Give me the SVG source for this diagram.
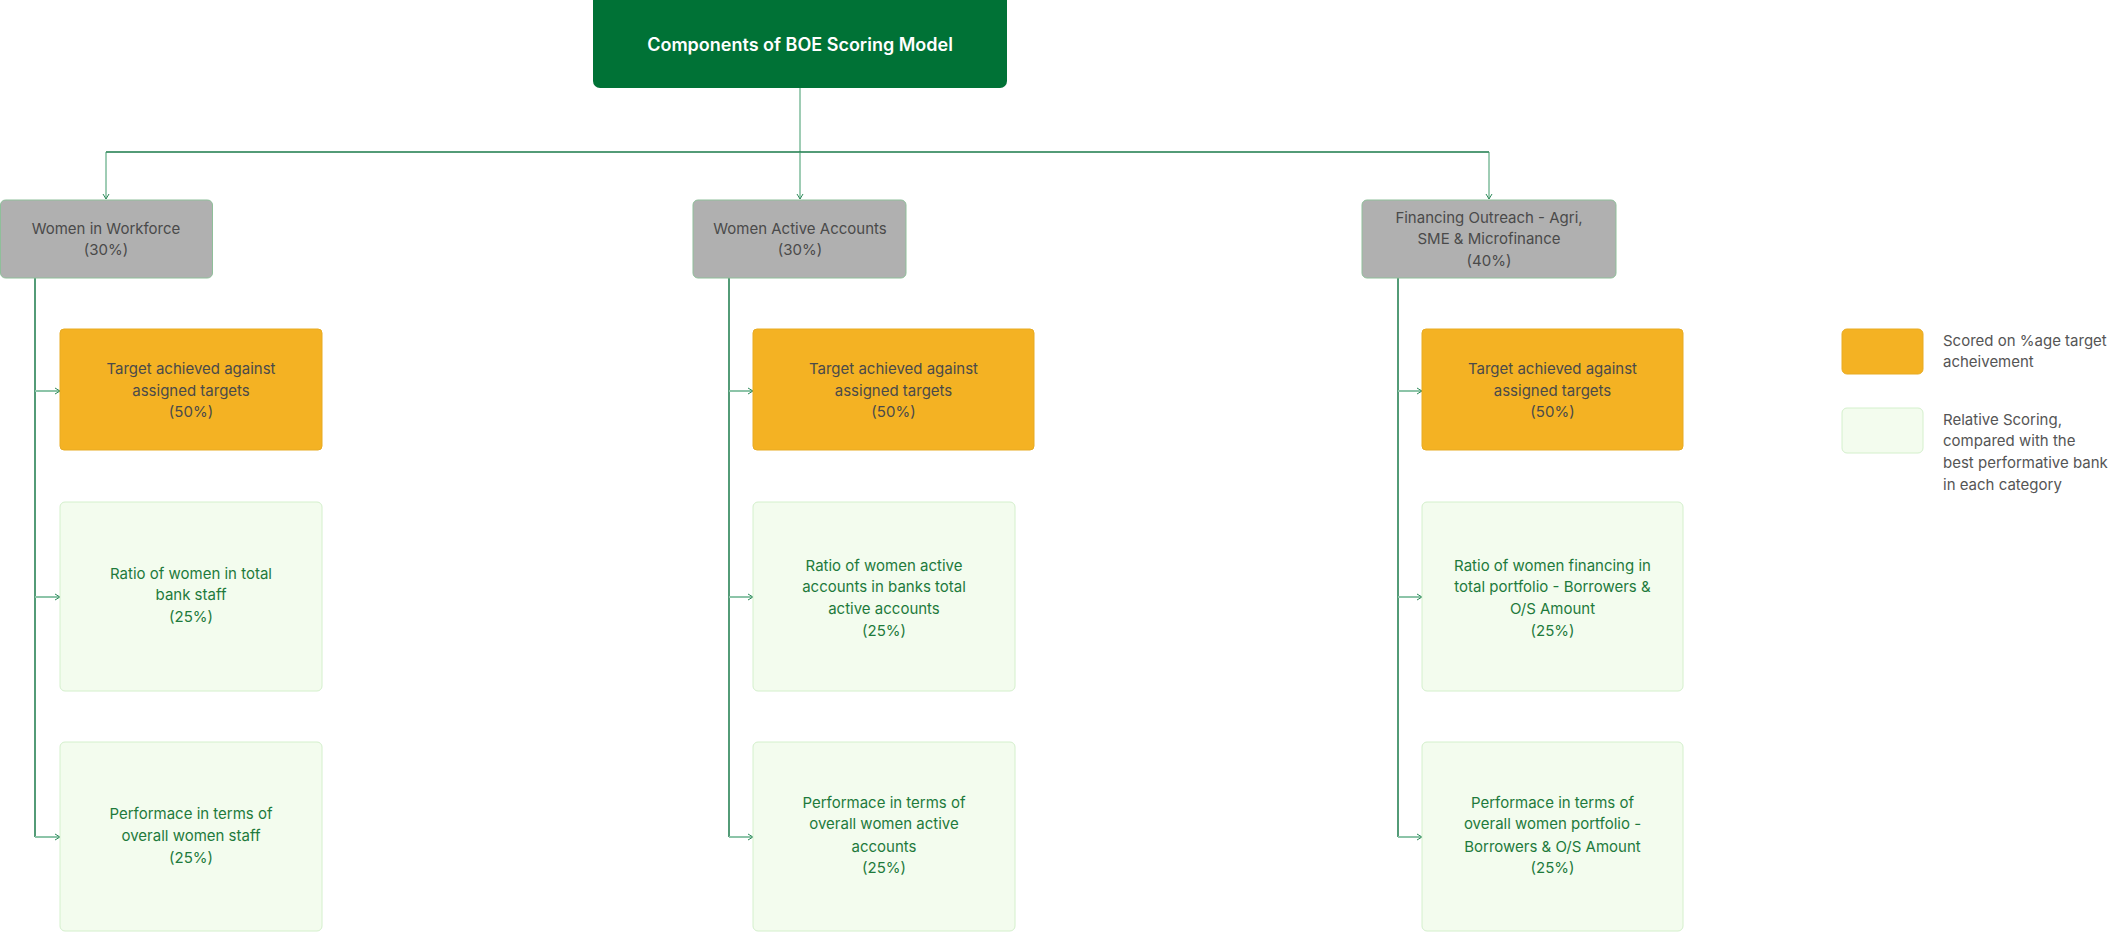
<svg xmlns="http://www.w3.org/2000/svg" width="2108" height="932" viewBox="0 0 2108 932">
<defs>
<style>
text{font-family:Inter,"Noto Sans","Liberation Sans",sans-serif;text-anchor:middle}
.title{font-size:18px;font-weight:600;fill:#ffffff}
.gray rect{fill:#b0b0b0;stroke:#8fbf9a;stroke-width:1}
.gray text{font-size:15px;fill:#4a4a4a}
.orange rect{fill:#f4b223;stroke:#e8ab22;stroke-width:1}
.orange text{font-size:15px;fill:#4a4a4a}
.lg rect{fill:#f3fcee;stroke:#d4f0cc;stroke-width:1}
.lg text{font-size:15px;fill:#1e7a3c}
.legend text{font-size:15px;fill:#555555;text-anchor:start}
.trunk{stroke:#1a7a4a;stroke-width:1.5;fill:none}
.thin{stroke:#3e9a6a;stroke-width:1;fill:none}
.stub{stroke:#8cc4a8;stroke-width:2;fill:none}
</style>
<marker id="ah" markerWidth="8" markerHeight="8" refX="6" refY="4" orient="auto" markerUnits="userSpaceOnUse">
<path d="M1,1 L6,4 L1,7" fill="none" stroke="#2e8a5a" stroke-width="1"/>
</marker>
</defs>

<g id="connectors">
<line class="thin" x1="800" y1="88" x2="800" y2="152"/>
<line class="trunk" x1="106" y1="152" x2="1489" y2="152"/>
<line class="thin" x1="106" y1="152" x2="106" y2="199" marker-end="url(#ah)"/>
<line class="thin" x1="800" y1="152" x2="800" y2="199" marker-end="url(#ah)"/>
<line class="thin" x1="1489" y1="152" x2="1489" y2="199" marker-end="url(#ah)"/>
<line class="trunk" x1="35" y1="278" x2="35" y2="837"/>
<line class="trunk" x1="729" y1="278" x2="729" y2="837"/>
<line class="trunk" x1="1398" y1="278" x2="1398" y2="837"/>
<line class="stub" x1="35" y1="391" x2="60" y2="391" marker-end="url(#ah)"/>
<line class="stub" x1="35" y1="597" x2="60" y2="597" marker-end="url(#ah)"/>
<line class="stub" x1="35" y1="837" x2="60" y2="837" marker-end="url(#ah)"/>
<line class="stub" x1="729" y1="391" x2="753" y2="391" marker-end="url(#ah)"/>
<line class="stub" x1="729" y1="597" x2="753" y2="597" marker-end="url(#ah)"/>
<line class="stub" x1="729" y1="837" x2="753" y2="837" marker-end="url(#ah)"/>
<line class="stub" x1="1398" y1="391" x2="1422" y2="391" marker-end="url(#ah)"/>
<line class="stub" x1="1398" y1="597" x2="1422" y2="597" marker-end="url(#ah)"/>
<line class="stub" x1="1398" y1="837" x2="1422" y2="837" marker-end="url(#ah)"/>
</g>

<g id="root">
<rect x="593" y="-6" width="414" height="94" rx="7" fill="#007236"/>
<text class="title" x="800" y="51">Components of BOE Scoring Model</text>
</g>

<g id="women-workforce" class="gray">
<rect x="0.5" y="200" width="212" height="78" rx="5"/>
<text x="106" y="234">Women in Workforce</text>
<text x="106" y="255">(30%)</text>
</g>
<g id="women-accounts" class="gray">
<rect x="693" y="200" width="213" height="78" rx="5"/>
<text x="800" y="234">Women Active Accounts</text>
<text x="800" y="255">(30%)</text>
</g>
<g id="financing" class="gray">
<rect x="1362" y="200" width="254" height="78" rx="5"/>
<text x="1489" y="223">Financing Outreach - Agri,</text>
<text x="1489" y="244">SME &amp; Microfinance</text>
<text x="1489" y="266">(40%)</text>
</g>

<g id="wf-target" class="orange">
<rect x="60" y="329" width="262" height="121" rx="4"/>
<text x="191" y="374">Target achieved against</text>
<text x="191" y="396">assigned targets</text>
<text x="191" y="417">(50%)</text>
</g>
<g id="wf-ratio" class="lg">
<rect x="60" y="502" width="262" height="189" rx="5"/>
<text x="191" y="579">Ratio of women in total</text>
<text x="191" y="600">bank staff</text>
<text x="191" y="622">(25%)</text>
</g>
<g id="wf-perf" class="lg">
<rect x="60" y="742" width="262" height="189" rx="5"/>
<text x="191" y="819">Performace in terms of</text>
<text x="191" y="841">overall women staff</text>
<text x="191" y="863">(25%)</text>
</g>

<g id="acc-target" class="orange">
<rect x="753" y="329" width="281" height="121" rx="4"/>
<text x="893.5" y="374">Target achieved against</text>
<text x="893.5" y="396">assigned targets</text>
<text x="893.5" y="417">(50%)</text>
</g>
<g id="acc-ratio" class="lg">
<rect x="753" y="502" width="262" height="189" rx="5"/>
<text x="884" y="571">Ratio of women active</text>
<text x="884" y="592">accounts in banks total</text>
<text x="884" y="614">active accounts</text>
<text x="884" y="636">(25%)</text>
</g>
<g id="acc-perf" class="lg">
<rect x="753" y="742" width="262" height="189" rx="5"/>
<text x="884" y="808">Performace in terms of</text>
<text x="884" y="829">overall women active</text>
<text x="884" y="852">accounts</text>
<text x="884" y="873">(25%)</text>
</g>

<g id="fin-target" class="orange">
<rect x="1422" y="329" width="261" height="121" rx="4"/>
<text x="1552.5" y="374">Target achieved against</text>
<text x="1552.5" y="396">assigned targets</text>
<text x="1552.5" y="417">(50%)</text>
</g>
<g id="fin-ratio" class="lg">
<rect x="1422" y="502" width="261" height="189" rx="5"/>
<text x="1552.5" y="571">Ratio of women financing in</text>
<text x="1552.5" y="592">total portfolio - Borrowers &amp;</text>
<text x="1552.5" y="614">O/S Amount</text>
<text x="1552.5" y="636">(25%)</text>
</g>
<g id="fin-perf" class="lg">
<rect x="1422" y="742" width="261" height="189" rx="5"/>
<text x="1552.5" y="808">Performace in terms of</text>
<text x="1552.5" y="829">overall women portfolio -</text>
<text x="1552.5" y="852">Borrowers &amp; O/S Amount</text>
<text x="1552.5" y="873">(25%)</text>
</g>

<g id="legend-target" class="legend">
<rect x="1842" y="329" width="81" height="45" rx="5" fill="#f4b223" stroke="#e8ab22"/>
<text x="1943" y="346">Scored on %age target</text>
<text x="1943" y="367">acheivement</text>
</g>
<g id="legend-relative" class="legend">
<rect x="1842" y="408" width="81" height="45" rx="5" fill="#f3fcee" stroke="#d4f0cc"/>
<text x="1943" y="425">Relative Scoring,</text>
<text x="1943" y="446">compared with the</text>
<text x="1943" y="468">best performative bank</text>
<text x="1943" y="490">in each category</text>
</g>
</svg>
